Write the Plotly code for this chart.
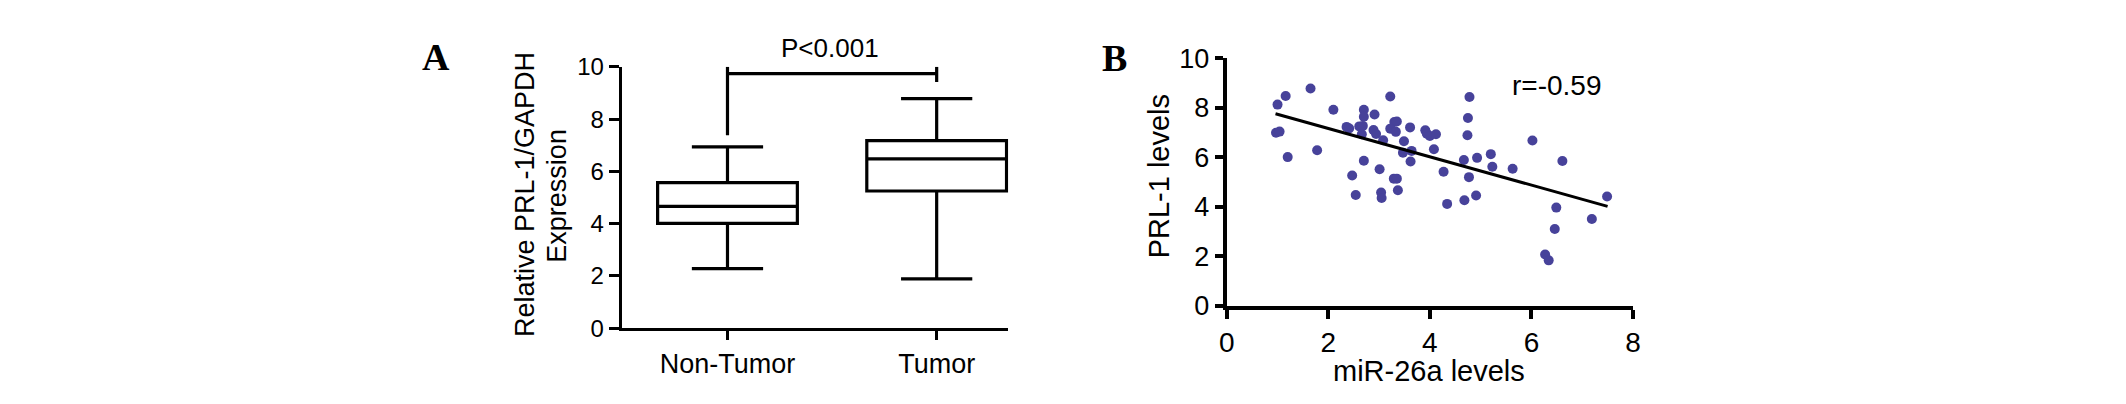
import plotly.graph_objects as go

W, H = 2126, 404

# ---- Panel A data (box plot) ----
categories = ["Non-Tumor", "Tumor"]
cat_pos = [0, 1]
q1 = [4.01, 5.25]
median = [4.66, 6.48]
q3 = [5.57, 7.18]
lowerfence = [2.28, 1.89]
upperfence = [6.94, 8.78]
yticks_a = [0, 2, 4, 6, 8, 10]

# significance bracket
bracket_left_x = [0, 0]
bracket_left_y = [7.38, 10.0]
bracket_top_x = [0, 1]
bracket_top_y = [9.74, 9.74]
bracket_right_x = [1, 1]
bracket_right_y = [10.0, 9.42]
p_label = "P<0.001"

# ---- Panel B data (scatter) ----
mir26a = [1.00, 1.16, 1.65, 0.97, 1.04, 1.20, 1.78, 2.10, 2.36, 2.41,
          2.70, 2.70, 2.61, 2.68, 2.66, 2.91, 2.89, 2.94, 3.08, 2.70,
          2.47, 2.54, 3.01, 3.04, 3.05, 3.22, 3.30, 3.35, 3.22, 3.33,
          3.49, 3.47, 3.64, 3.61, 3.62, 3.29, 3.35, 3.37, 3.91, 3.94,
          4.00, 4.12, 4.08, 4.27, 4.34, 4.78, 4.75, 4.74, 4.67, 4.93,
          4.77, 4.68, 4.91, 5.20, 5.23, 5.63, 6.02, 6.61, 6.49, 6.46,
          6.27, 6.34, 7.19, 7.49]
prl1 = [8.12, 8.47, 8.77, 6.98, 7.03, 6.00, 6.28, 7.91, 7.22, 7.16,
        7.91, 7.63, 7.24, 7.26, 6.92, 7.72, 7.09, 6.93, 6.68, 5.85,
        5.26, 4.47, 5.51, 4.57, 4.35, 8.45, 7.42, 7.44, 7.15, 7.02,
        6.64, 6.18, 6.25, 7.20, 5.82, 5.13, 5.13, 4.66, 7.08, 6.94,
        6.85, 6.92, 6.32, 5.41, 4.11, 8.43, 7.58, 6.88, 5.88, 5.97,
        5.19, 4.26, 4.45, 6.12, 5.61, 5.53, 6.67, 5.84, 3.96, 3.10,
        2.07, 1.83, 3.50, 4.41]
fit_x = [0.96, 7.50]
fit_y = [7.75, 4.01]
r_label = "r=-0.59"
xticks_b = [0, 2, 4, 6, 8]
yticks_b = [0, 2, 4, 6, 8, 10]

SANS = "Liberation Sans, Arial, Helvetica, sans-serif"
SERIF = "Liberation Serif, Times New Roman, serif"


def px_x(p):
    return p / W


def px_y(p):
    return 1 - p / H


fig = go.Figure()

fig.add_trace(go.Box(
    x=cat_pos, q1=q1, median=median, q3=q3,
    lowerfence=lowerfence, upperfence=upperfence,
    width=0.668, whiskerwidth=0.51, fillcolor="white",
    line=dict(color="black", width=3.2), boxpoints=False,
    xaxis="x", yaxis="y", hoverinfo="skip"))

for bx, by in [(bracket_left_x, bracket_left_y),
               (bracket_top_x, bracket_top_y),
               (bracket_right_x, bracket_right_y)]:
    fig.add_trace(go.Scatter(x=bx, y=by, mode="lines",
                             line=dict(color="black", width=3.2),
                             cliponaxis=False, xaxis="x", yaxis="y",
                             hoverinfo="skip"))

fig.add_trace(go.Scatter(x=mir26a, y=prl1, mode="markers",
                         marker=dict(color="#47429a", size=10),
                         cliponaxis=False, xaxis="x2", yaxis="y2"))
fig.add_trace(go.Scatter(x=fit_x, y=fit_y, mode="lines",
                         line=dict(color="black", width=3),
                         xaxis="x2", yaxis="y2"))

axis_common = dict(showline=True, linecolor="black", showgrid=False,
                   zeroline=False, ticks="outside", tickcolor="black",
                   fixedrange=True)

fig.update_layout(
    width=W, height=H,
    margin=dict(l=0, r=0, t=0, b=0),
    paper_bgcolor="white", plot_bgcolor="white",
    showlegend=False,
    font=dict(family=SANS, color="black"),
    xaxis=dict(axis_common, domain=[px_x(618.3), px_x(1008)],
               range=[-0.506, 1.343], tickvals=cat_pos, ticktext=categories,
               linewidth=3, tickwidth=3, ticklen=9,
               tickfont=dict(size=27, family=SANS, color="black"),
               anchor="y"),
    yaxis=dict(axis_common, domain=[px_y(338.3), px_y(56)],
               range=[0, 10], tickvals=yticks_a,
               linewidth=3, tickwidth=3, ticklen=10,
               tickfont=dict(size=24, family=SANS, color="black"),
               anchor="x"),
    xaxis2=dict(axis_common, domain=[px_x(1228), px_x(1637.3)],
                range=[0, 8], tickvals=xticks_b,
                linewidth=4, tickwidth=4, ticklen=9,
                tickfont=dict(size=28, family=SANS, color="black"),
                anchor="y2"),
    yaxis2=dict(axis_common, domain=[px_y(314), px_y(46.5)],
                range=[0, 10], tickvals=yticks_b,
                linewidth=4, tickwidth=4, ticklen=8,
                tickfont=dict(size=27, family=SANS, color="black"),
                anchor="x2"),
)

ann = [
    dict(text="A", x=px_x(431), y=px_y(45),
         font=dict(family=SERIF, size=38, color="black"), bold=True),
    dict(text="B", x=px_x(1115), y=px_y(46),
         font=dict(family=SERIF, size=38, color="black"), bold=True),
    dict(text=p_label, x=px_x(828), y=px_y(35.7),
         font=dict(family=SANS, size=26, color="black")),
    dict(text=r_label, x=px_x(1561), y=px_y(76),
         font=dict(family=SANS, size=28, color="black")),
    dict(text="Relative PRL-1/GAPDH", x=px_x(520.3), y=px_y(194),
         textangle=-90, font=dict(family=SANS, size=27, color="black")),
    dict(text="Expression", x=px_x(552.3), y=px_y(195),
         textangle=-90, font=dict(family=SANS, size=27, color="black")),
    dict(text="PRL-1 levels", x=px_x(1160), y=px_y(174),
         textangle=-90, font=dict(family=SANS, size=29, color="black")),
    dict(text="miR-26a levels", x=px_x(1432), y=px_y(385),
         font=dict(family=SANS, size=29, color="black")),
]
for a in ann:
    bold = a.pop("bold", False)
    if bold:
        a["text"] = "<b>" + a["text"] + "</b>"
    fig.add_annotation(xref="paper", yref="paper", xanchor="center",
                       yanchor="middle", showarrow=False, **a)

fig.write_html(
    "out.html",
    config={"displayModeBar": False},
    post_script="document.body.style.margin='0';"
                "document.body.style.overflow='hidden';")
